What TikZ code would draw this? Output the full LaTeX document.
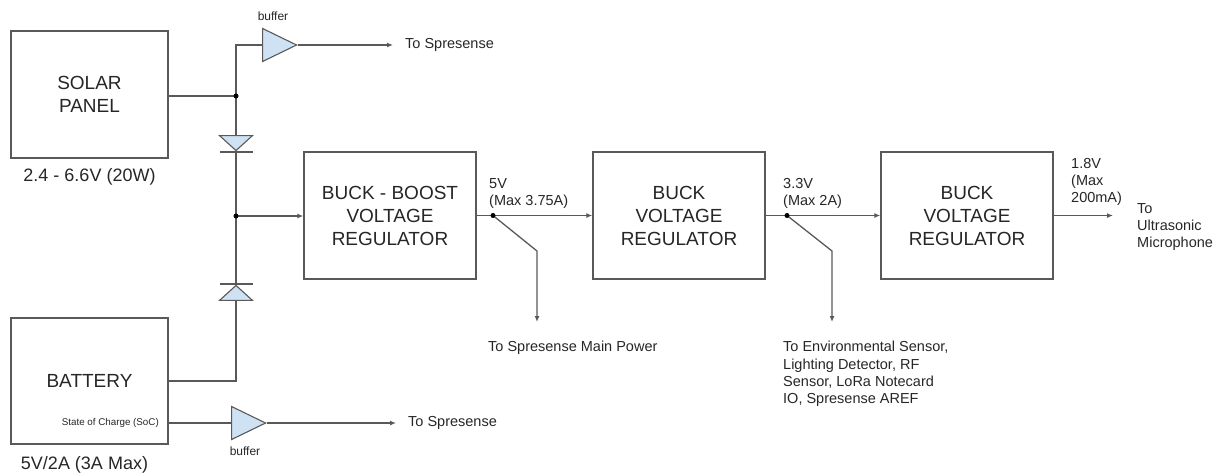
\documentclass[tikz,border=0pt]{standalone}
\usepackage{fontspec}
\setmainfont{Liberation Sans}
\usetikzlibrary{positioning,shapes.geometric,arrows.meta}

\definecolor{wiregray}{HTML}{595959}
\definecolor{ink}{HTML}{262626}
\definecolor{bufblue}{HTML}{CFE2F3}

\tikzset{
    block/.style={draw=wiregray, line width=1.4pt, minimum width=172pt, minimum height=127pt,
                  inner sep=0pt, align=center, text=ink, font=\fontsize{19}{23}\selectfont},
    source/.style={block, minimum width=157pt},
    big/.style={inner sep=0pt, text=ink, font=\fontsize{18}{21}\selectfont},
    note/.style={inner sep=0pt, text=ink, align=left, font=\fontsize{14.5}{17.3}\selectfont},
    small/.style={inner sep=0pt, text=ink, font=\fontsize{12}{14}\selectfont},
    tiny/.style={inner sep=0pt, text=ink, font=\fontsize{9.8}{12}\selectfont},
    buf/.style={isosceles triangle, isosceles triangle stretches, draw=wiregray, fill=bufblue,
                line width=1.1pt, minimum width=33pt, minimum height=34pt, inner sep=0pt},
    diode/.style={buf, shape border rotate=#1, minimum width=33pt, minimum height=15pt},
    wire/.style={draw=wiregray, line width=1.3pt},
    feed/.style={wire, -{Latex[length=6pt,width=5pt]}},
}

\begin{document}
\begin{tikzpicture}[x=1pt, y=-1pt]

    \useasboundingbox (0,0) rectangle (1223,472);

    % Define nodes
    \node[source]                         (solar) at (89.5,94.5) {SOLAR\\PANEL};
    \node[source, minimum height=126pt]   (batt)  at (89.5,381)  {BATTERY};
    \node[block]                          (bb)    at (390,215.5) {BUCK - BOOST\\VOLTAGE\\REGULATOR};
    \node[block]                          (buck1) at (679,215.5) {BUCK\\VOLTAGE\\REGULATOR};
    \node[block]                          (buck2) at (967,215.5) {BUCK\\VOLTAGE\\REGULATOR};

    \node[big, below=10pt of solar]              (solarv) {2.4 - 6.6V (20W)};
    \node[big, below=12pt of batt, xshift=-5pt]  (battv)  {5V/2A (3A Max)};
    \node[tiny, anchor=east]                     (soc) at (159,423) {State of Charge (SoC)};

    \node[buf, anchor=apex]                (bufA) at (298,45)  {};
    \node[buf, anchor=apex]                (bufB) at (267,423) {};
    \node[diode=270, anchor=apex]          (d1)   at (236,152) {};
    \node[diode=90, anchor=apex]           (d2)   at (236,284) {};
    \node[small]                           (bufAl) at (273,16)  {buffer};
    \node[small]                           (bufBl) at (245,451) {buffer};

    \coordinate (jS)  at (236,96);
    \coordinate (jM)  at (236,216);
    \coordinate (tA)  at (236,45);
    \coordinate (tB)  at (236,381);
    \coordinate (outA) at (393,45);
    \coordinate (outB) at (396,423);
    \coordinate (j5)  at (493,215.5);
    \coordinate (k5)  at (537,251);
    \coordinate (e5)  at (537,322);
    \coordinate (j3)  at (787,215.5);
    \coordinate (k3)  at (832,251);
    \coordinate (e3)  at (832,322);
    \coordinate (out18) at (1113,215.5);

    \node[note, right=12pt of outA]             (toA) {To Spresense};
    \node[note, right=12pt of outB]             (toB) {To Spresense};
    \node[note, anchor=south west] (v5)  at (489,209) {5V\\(Max 3.75A)};
    \node[note, anchor=south west] (v33) at (783,209) {3.3V\\(Max 2A)};
    \node[note, anchor=south west] (v18) at (1071,206) {1.8V\\(Max\\200mA)};
    \node[note, anchor=north west] (mic) at (1137,203) {To\\Ultrasonic\\Microphone};
    \node[note, anchor=north west] (main) at (488,341) {To Spresense Main Power};
    \node[note, anchor=north west] (env)  at (783,341)
        {To Environmental Sensor,\\Lighting Detector, RF\\Sensor, LoRa Notecard\\IO, Spresense AREF};

    % Connect the nodes
    \draw[wire] (solar.east |- jS) -- (jS) -- (tA) -- (bufA.west);
    \draw[feed] (bufA.apex) -- (outA);
    \draw[wire] (jS) -- (d1.north);
    \draw[wire] (d1.apex) -- (jM) -- (d2.apex);
    \draw[wire] (d2.south) -- (tB) -- (batt.east |- tB);
    \draw[wire] ([xshift=-16.5pt]d1.apex) -- ([xshift=16.5pt]d1.apex);
    \draw[wire] ([xshift=-16.5pt]d2.apex) -- ([xshift=16.5pt]d2.apex);
    \draw[wire] (batt.east |- soc.east) -- (bufB.west);
    \draw[feed] (bufB.apex) -- (outB);

    \draw[feed] (jM) -- (bb.west |- jM);
    \draw[feed] (bb.east) -- (buck1.west);
    \draw[feed] (buck1.east) -- (buck2.west);
    \draw[feed] (buck2.east) -- (out18);
    \draw[feed] (j5) -- (k5) -- (e5);
    \draw[feed] (j3) -- (k3) -- (e3);

    % Junctions
    \fill (jS) circle (2.5pt);
    \fill (jM) circle (2.5pt);
    \fill (j5) circle (2.5pt);
    \fill (j3) circle (2.5pt);

\end{tikzpicture}
\end{document}
